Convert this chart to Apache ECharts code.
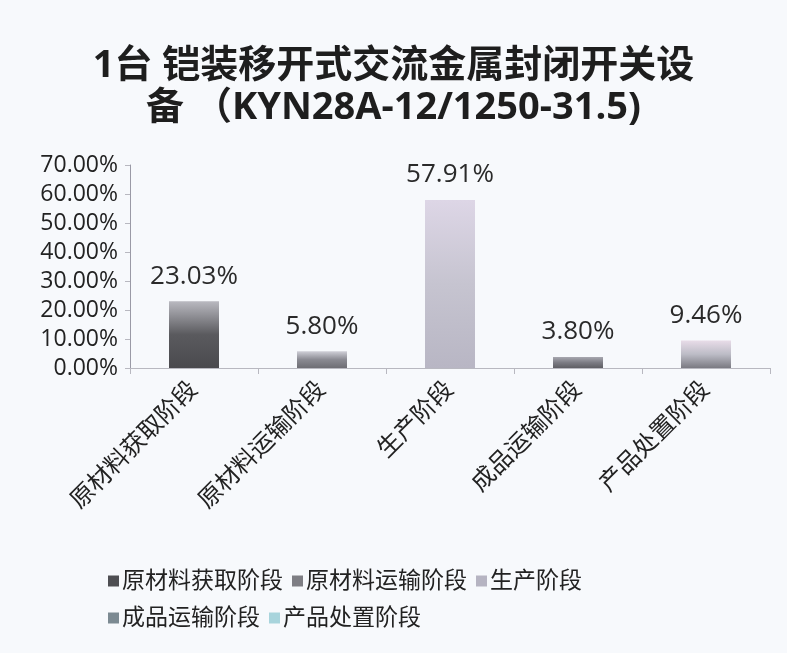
<!DOCTYPE html>
<html>
<head>
<meta charset="utf-8">
<script src="https://cdn.jsdelivr.net/npm/echarts@6/dist/echarts.min.js"></script>
<style>
  html, body { margin: 0; padding: 0; background: #f7f9fc; }
  #chart { width: 787px; height: 653px; }
</style>
</head>
<body>
<div id="chart"></div>
<script>
// 各阶段占比
var categories = ['原材料获取阶段', '原材料运输阶段', '生产阶段', '成品运输阶段', '产品处置阶段'];
var values = [0.2303, 0.0580, 0.5791, 0.0380, 0.0946];
var yTicks = [0, 0.1, 0.2, 0.3, 0.4, 0.5, 0.6, 0.7];

// 每个柱子的渐变（上 → 下）
var barColors = [
  ['#b9b9c0', '#5a5a5e', '#4a4a4e'],
  ['#d0d0d8', '#8a8a92', '#6e6e74'],
  ['#ddd6e6', '#c6c4d0', '#b8b6c4'],
  ['#a8a8b0', '#7c7c84', '#5e5e64'],
  ['#e8dce8', '#bcbcc6', '#7a7a82']
];
var legendColors = ['#4e4e52', '#7e7e84', '#b6b4c2', '#7c8a92', '#a8d4dc'];

var FONT = '"Open Sans", "Noto Sans CJK SC", sans-serif';

function grad(c) {
  return new echarts.graphic.LinearGradient(0, 0, 0, 1, [
    { offset: 0, color: c[0] },
    { offset: 0.5, color: c[1] },
    { offset: 1, color: c[2] }
  ]);
}

var series = categories.map(function (name, i) {
  var data = categories.map(function (_, j) { return j === i ? values[i] : null; });
  return {
    name: name,
    type: 'bar',
    stack: 'all',
    barWidth: 50,
    data: data,
    color: legendColors[i],
    itemStyle: { color: grad(barColors[i]) },
    label: {
      show: true,
      position: 'top',
      distance: 12,
      fontSize: 26,
      fontFamily: FONT,
      color: '#2a2a2a',
      formatter: function (p) { return (p.value * 100).toFixed(2) + '%'; }
    }
  };
});

var chart = echarts.init(document.getElementById('chart'));
chart.setOption({
  backgroundColor: '#f7f9fc',
  animation: false,
  title: {
    text: '1台 铠装移开式交流金属封闭开关设\n备 （KYN28A-12/1250-31.5)',
    left: 'center',
    top: 40,
    textStyle: {
      fontSize: 38,
      fontWeight: 'bold',
      fontFamily: FONT,
      color: '#1e1e1e',
      lineHeight: 42
    }
  },
  legend: {
    data: categories.map(function (n, i) {
      return { name: n, itemStyle: { color: legendColors[i] } };
    }),
    left: 103,
    top: 562,
    width: 560,
    itemWidth: 11,
    itemHeight: 11,
    itemGap: 9,
    icon: 'rect',
    textStyle: { fontSize: 23, fontFamily: FONT, color: '#222', padding: [0, 0, 0, -2], lineHeight: 28 }
  },
  grid: { left: 130, right: 17, top: 165, bottom: 285 },
  xAxis: {
    type: 'category',
    data: categories,
    axisLine: { lineStyle: { color: '#b8b8c0' } },
    axisTick: { show: true, length: 6, lineStyle: { color: '#b8b8c0' } },
    axisLabel: {
      rotate: 45,
      interval: 0,
      margin: 18,
      fontSize: 24,
      fontFamily: FONT,
      color: '#222'
    }
  },
  yAxis: {
    type: 'value',
    min: yTicks[0],
    max: yTicks[yTicks.length - 1],
    interval: 0.1,
    splitLine: { show: false },
    axisLine: { show: true, lineStyle: { color: '#9a9aa6' } },
    axisTick: { show: true, inside: false, length: 5, lineStyle: { color: '#b8b8c0' } },
    axisLabel: {
      margin: 12,
      fontSize: 23,
      fontFamily: FONT,
      color: '#222',
      formatter: function (v) { return (v * 100).toFixed(2) + '%'; }
    }
  },
  series: series
});
</script>
</body>
</html>
